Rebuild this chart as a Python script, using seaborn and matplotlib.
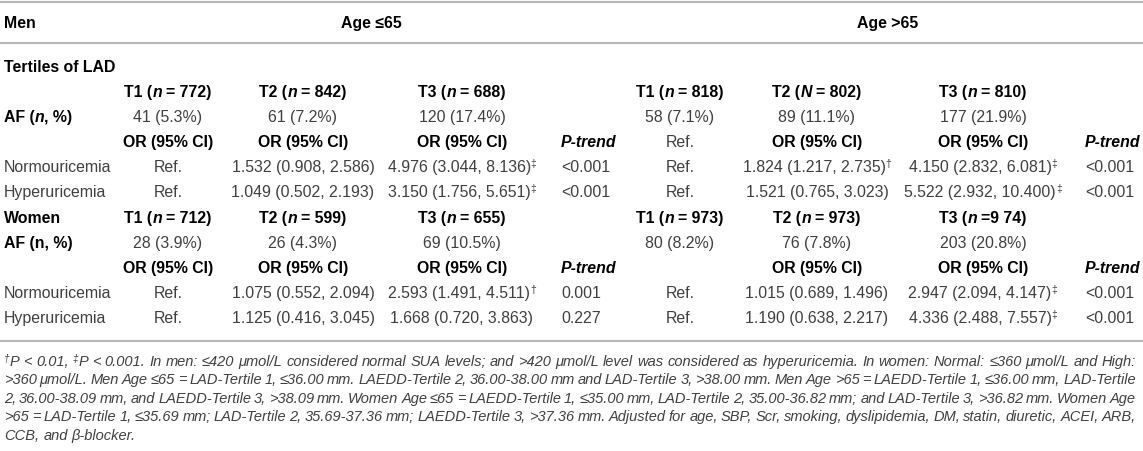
import matplotlib
matplotlib.use('Agg')
import matplotlib.pyplot as plt
import seaborn as sns

sns.set_theme(style='white')
plt.rcParams['font.family'] = ['Liberation Sans', 'DejaVu Sans']

# ---- table content ----
age_groups = ['Age \u226465', 'Age >65']
men_n_letter = ['n', 'n', 'n', 'n', 'N', 'n']
men_n_value = ['= 772', '= 842', '= 688', '= 818', '= 802', '= 810']
women_n_value = ['= 712', '= 599', '= 655', '= 973', '= 973', '=9 74']
men_af = ['41 (5.3%)', '61 (7.2%)', '120 (17.4%)', '58 (7.1%)', '89 (11.1%)', '177 (21.9%)']
women_af = ['28 (3.9%)', '26 (4.3%)', '69 (10.5%)', '80 (8.2%)', '76 (7.8%)', '203 (20.8%)']

men_or_header = ['OR (95% CI)', 'OR (95% CI)', 'OR (95% CI)', 'P-trend', 'Ref.', 'OR (95% CI)', 'OR (95% CI)', 'P-trend']
women_or_header = ['OR (95% CI)', 'OR (95% CI)', 'OR (95% CI)', 'P-trend', '', 'OR (95% CI)', 'OR (95% CI)', 'P-trend']

men_normo = ['Ref.', '1.532 (0.908, 2.586)', '4.976 (3.044, 8.136)', '<0.001',
             'Ref.', '1.824 (1.217, 2.735)', '4.150 (2.832, 6.081)', '<0.001']
men_normo_sup = ['', '', '\u2021', '', '', '\u2020', '\u2021', '']
men_hyper = ['Ref.', '1.049 (0.502, 2.193)', '3.150 (1.756, 5.651)', '<0.001',
             'Ref.', '1.521 (0.765, 3.023)', '5.522 (2.932, 10.400)', '<0.001']
men_hyper_sup = ['', '', '\u2021', '', '', '', '\u2021', '']
women_normo = ['Ref.', '1.075 (0.552, 2.094)', '2.593 (1.491, 4.511)', '0.001',
               'Ref.', '1.015 (0.689, 1.496)', '2.947 (2.094, 4.147)', '<0.001']
women_normo_sup = ['', '', '\u2020', '', '', '', '\u2021', '']
women_hyper = ['Ref.', '1.125 (0.416, 3.045)', '1.668 (0.720, 3.863)', '0.227',
               'Ref.', '1.190 (0.638, 2.217)', '4.336 (2.488, 7.557)', '<0.001']
women_hyper_sup = ['', '', '', '', '', '', '\u2021', '']

footnote = [
    '\u2020P < 0.01, \u2021P < 0.001. In men: \u2264420 \u03bcmol/L considered normal SUA levels; and >420 \u03bcmol/L level was considered as hyperuricemia. In women: Normal: \u2264360 \u03bcmol/L and High:',
    '>360 \u03bcmol/L. Men Age \u226465 = LAD-Tertile 1, \u226436.00 mm. LAEDD-Tertile 2, 36.00-38.00 mm and LAD-Tertile 3, >38.00 mm. Men Age >65 = LAEDD-Tertile 1, \u226436.00 mm, LAD-Tertile',
    '2, 36.00-38.09 mm, and LAEDD-Tertile 3, >38.09 mm. Women Age \u226465 = LAEDD-Tertile 1, \u226435.00 mm, LAD-Tertile 2, 35.00-36.82 mm; and LAD-Tertile 3, >36.82 mm. Women Age',
    '>65 = LAD-Tertile 1, \u226435.69 mm; LAD-Tertile 2, 35.69-37.36 mm; LAEDD-Tertile 3, >37.36 mm. Adjusted for age, SBP, Scr, smoking, dyslipidemia, DM, statin, diuretic, ACEI, ARB,',
    'CCB, and \u03b2-blocker.',
]

# ---- layout ----
W, H = 1143, 452
fig = plt.figure(figsize=(W / 100, H / 100), dpi=100)
ax = fig.add_axes([0, 0, 1, 1])
ax.set_xlim(0, W)
ax.set_ylim(H, 0)
ax.axis('off')
renderer = fig.canvas.get_renderer()

FS = 11.4
GRAY = '#404040'
B = dict(fontweight='bold', color='black')
BI = dict(fontweight='bold', fontstyle='italic', color='black')
R = dict(color=GRAY)
I = dict(fontstyle='italic', color=GRAY)

col_x = [168, 303, 462, 561, 680, 817, 983, 1085]
col_ha = ['center', 'center', 'center', 'left', 'center', 'center', 'center', 'left']


def text_w(s, props, size):
    if not s:
        return 0.0
    t = ax.text(0, 0, s, fontsize=size, **props)
    w = t.get_window_extent(renderer).width
    t.remove()
    return w


def draw_runs(x, y, runs, ha='center'):
    # runs: (text, props, size, dy) ; spaces at run edges measured separately
    pieces = []
    total = 0.0
    for s, props, size, dy in runs:
        core = s.strip(' ')
        sw = text_w('a a', props, size) - text_w('aa', props, size)
        lead = (len(s) - len(s.lstrip(' '))) * sw
        trail = (len(s) - len(s.rstrip(' '))) * sw
        w = text_w(core, props, size)
        pieces.append((core, props, size, dy, lead, w, trail))
        total += lead + w + trail
    cx = x - total / 2 if ha == 'center' else x
    for core, props, size, dy, lead, w, trail in pieces:
        cx += lead
        if core:
            ax.text(cx, y + dy, core, fontsize=size, ha='left', va='baseline', **props)
        cx += w + trail


def cell(i, y, s, props, sup=''):
    if not s:
        return
    runs = [(s, props, FS, 0)]
    if sup:
        runs.append((sup, R, 7.5, -5))
    draw_runs(col_x[i], y, runs, col_ha[i])


# row baselines (text centre + ~5 px)
rows = dict(head=28, tert=72, men_t=97, men_af=122, men_or=147, men_n=172, men_h=197,
            wom=223, wom_af=248, wom_or=273, wom_n=298, wom_h=323)

# rules
for yl in [3, 43.5, 342]:
    ax.axhline(yl, color='#b8b8b8', lw=1.6)

# header
draw_runs(4, rows['head'], [('Men', B, FS, 0)], 'left')
draw_runs(371, rows['head'], [(age_groups[0], B, FS, 0)])
draw_runs(888, rows['head'], [(age_groups[1], B, FS, 0)])

draw_runs(4, rows['tert'], [('Tertiles of LAD', B, FS, 0)], 'left')

# tertile headers and AF counts
tcols = [0, 1, 2, 4, 5, 6]
for k, i in enumerate(tcols):
    lab = 'T%d (' % (k % 3 + 1)
    draw_runs(col_x[i], rows['men_t'], [(lab, B, FS, 0), (men_n_letter[k], BI, FS, 0),
                                        (' ' + men_n_value[k] + ')', B, FS, 0)])
    draw_runs(col_x[i], rows['wom'], [(lab, B, FS, 0), ('n', BI, FS, 0),
                                      (' ' + women_n_value[k] + ')', B, FS, 0)])
    cell(i, rows['men_af'], men_af[k], R)
    cell(i, rows['wom_af'], women_af[k], R)

draw_runs(4, rows['men_af'], [('AF (', B, FS, 0), ('n', BI, FS, 0), (', %)', B, FS, 0)], 'left')
draw_runs(4, rows['wom'], [('Women', B, FS, 0)], 'left')
draw_runs(4, rows['wom_af'], [('AF (n, %)', B, FS, 0)], 'left')

for i in range(8):
    for hdr, key in [(men_or_header, 'men_or'), (women_or_header, 'wom_or')]:
        s = hdr[i]
        props = BI if s == 'P-trend' else (R if s == 'Ref.' else B)
        cell(i, rows[key], s, props)

data_rows = [('Normouricemia', men_normo, men_normo_sup, 'men_n'),
             ('Hyperuricemia', men_hyper, men_hyper_sup, 'men_h'),
             ('Normouricemia', women_normo, women_normo_sup, 'wom_n'),
             ('Hyperuricemia', women_hyper, women_hyper_sup, 'wom_h')]
for label, vals, sups, key in data_rows:
    draw_runs(4, rows[key], [(label, R, FS, 0)], 'left')
    for i in range(8):
        cell(i, rows[key], vals[i], R, sups[i])

# footnote, justified like the source
FN = 10.5
fn_y = [366, 384.5, 403, 421.5, 440]
x0, x1 = 4, 1136
for j, line in enumerate(footnote):
    words = line.split(' ')
    word_runs = []
    for wd in words:
        if wd[0] in '\u2020\u2021':
            word_runs.append([(wd[0], I, 7.2, -4), (wd[1:], I, FN, 0)])
        else:
            word_runs.append([(wd, I, FN, 0)])
    widths = [sum(text_w(s, p, sz) for s, p, sz, d in wr) for wr in word_runs]
    if j < len(footnote) - 1:
        gap = (x1 - x0 - sum(widths)) / (len(words) - 1)
    else:
        gap = text_w('a a', I, FN) - text_w('aa', I, FN)
    cx = x0
    for wr, w in zip(word_runs, widths):
        draw_runs(cx, fn_y[j], wr, 'left')
        cx += w + gap

fig.savefig('out.png', dpi=100)
